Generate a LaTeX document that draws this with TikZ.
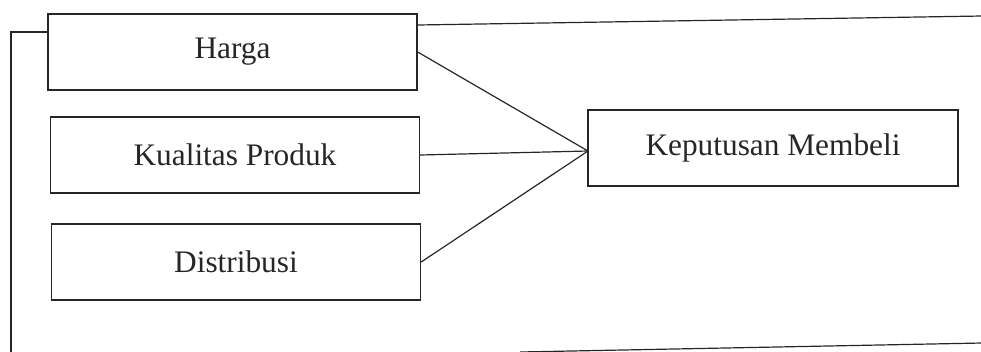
\documentclass[tikz,border=0pt]{standalone}
\usepackage{fontspec}
\setmainfont{Liberation Serif}
\begin{document}
\begin{tikzpicture}[x=0.75pt,y=-0.75pt,
  box/.style={draw=black!85,line width=1pt,rectangle,inner sep=0pt,
    minimum width=369*0.75pt,minimum height=76*0.75pt,
    font=\fontsize{23.5}{28}\selectfont,text=black!85},
  link/.style={draw=black!85,line width=0.9pt}]
\useasboundingbox (0,0) rectangle (981,351);
\node[box] (harga) at (232.5,52) {Harga};
\node[box] (kual) at (235,155) {Kualitas Produk};
\node[box] (dist) at (236,262) {Distribusi};
\node[box,minimum width=370*0.75pt] (kep) at (773,148) {Keputusan Membeli};
\coordinate (meet) at (588,151);
\draw[link] (harga.east) -- (meet);
\draw[link] (kual.east) -- (meet);
\draw[link] (dist.east) -- (meet);
% outer frame
\coordinate (tl) at (11,32);
\coordinate (bl) at (11,352);
\coordinate (tr) at (982,16);
\coordinate (bs) at (520,352);
\coordinate (br) at (982,343);
\draw[link] (harga.west |- tl) -- (tl) -- (bl);
\draw[link] (harga.east |- 0,25) -- (tr);
\draw[link] (bs) -- (br);
\end{tikzpicture}
\end{document}
